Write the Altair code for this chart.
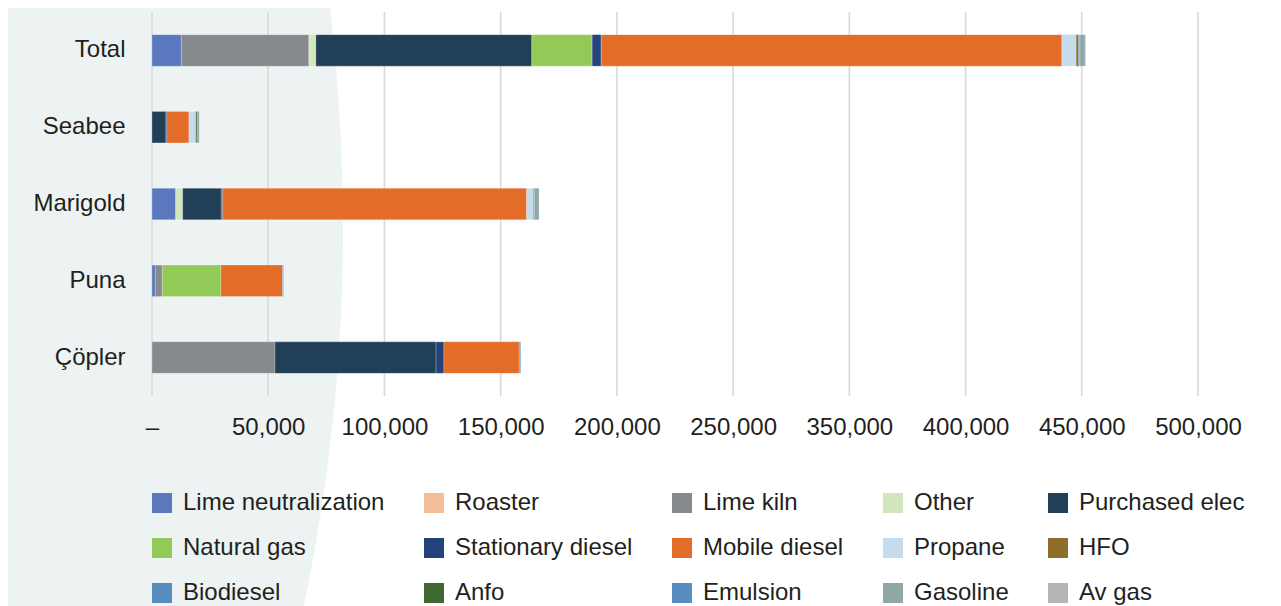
import altair as alt
import pandas as pd

sites = ["Total", "Seabee", "Marigold", "Puna", "Çöpler"]

sources = [
    "Lime neutralization", "Roaster", "Lime kiln", "Other", "Purchased elec",
    "Natural gas", "Stationary diesel", "Mobile diesel", "Propane", "HFO",
    "Biodiesel", "Anfo", "Emulsion", "Gasoline", "Av gas",
]

colors = [
    "#5a78bd", "#f3bf98", "#868a8c", "#d2e7bd", "#223f58",
    "#93c957", "#24437a", "#e36d28", "#c6dcec", "#8f6e2c",
    "#578dbf", "#416830", "#578dbf", "#8fa8a6", "#b5b5b5",
]

# values per source, aligned with `sites`
lime_neutralization = [12600, 0, 10200, 1400, 0]
roaster = [0, 0, 0, 0, 0]
lime_kiln = [54900, 0, 0, 3000, 52900]
other = [3000, 0, 3000, 0, 0]
purchased_elec = [92900, 6000, 16600, 0, 69300]
natural_gas = [25950, 0, 0, 25250, 0]
stationary_diesel = [3900, 400, 600, 0, 3400]
mobile_diesel = [198200, 9500, 130800, 26500, 32400]
propane = [6000, 2900, 2900, 0, 0]
hfo = [500, 0, 0, 0, 0]
biodiesel = [0, 0, 0, 0, 0]
anfo = [600, 600, 400, 0, 0]
emulsion = [600, 0, 0, 400, 600]
gasoline = [2300, 900, 2000, 0, 0]
av_gas = [300, 0, 0, 0, 0]

series = [
    lime_neutralization, roaster, lime_kiln, other, purchased_elec,
    natural_gas, stationary_diesel, mobile_diesel, propane, hfo,
    biodiesel, anfo, emulsion, gasoline, av_gas,
]

ticks = [0, 50000, 100000, 150000, 200000, 250000, 300000, 350000, 400000, 450000]

rows = []
for k, (src, vals) in enumerate(zip(sources, series)):
    for site, v in zip(sites, vals):
        if v > 0:
            rows.append({"site": site, "source": src, "value": v, "idx": k})
df = pd.DataFrame(rows)

W, H = 1046, 384
FONT = "Liberation Sans"
TXT = "#231f20"

xscale = alt.Scale(domain=[0, 450000], nice=False, zero=True)
xaxis = alt.Axis(
    values=ticks,
    labelExpr="datum.value == 0 ? '–' : format(datum.value >= 300000 ? datum.value + 50000 : datum.value, ',')",
    grid=False, domain=False, ticks=False, title=None,
    labelFontSize=24, labelPadding=19, labelFlush=False, zindex=1,
)

bg = alt.Chart(alt.Data(values=[{"a": 1}])).mark_arc(
    radius=1843, theta=0, theta2=6.2832, color="#edf3f3"
).encode(x=alt.value(-1652), y=alt.value(216))

grid = alt.Chart(pd.DataFrame({"t": ticks})).mark_rule(
    color="#d9d9d9", strokeWidth=1.6
).encode(
    x=alt.X("t:Q", scale=xscale, axis=xaxis),
    y=alt.value(0), y2=alt.value(H),
)

bars = alt.Chart(df).mark_bar(stroke="white", strokeWidth=0.4, strokeOpacity=0.6).encode(
    x=alt.X("value:Q", stack="zero", scale=xscale, axis=xaxis),
    y=alt.Y(
        "site:N", sort=sites,
        scale=alt.Scale(paddingInner=0.59, paddingOuter=0.295),
        axis=alt.Axis(title=None, domain=False, ticks=False, labelFontSize=24,
                      labelPadding=27, zindex=1),
    ),
    color=alt.Color(
        "source:N",
        scale=alt.Scale(domain=sources, range=colors),
        legend=alt.Legend(
            title=None, orient="none", legendX=-2, legendY=479, columns=5,
            direction="horizontal",
            symbolType="square", symbolSize=400, symbolStrokeWidth=0,
            symbolOpacity=1, labelFontSize=24, labelOffset=9,
            columnPadding=37, rowPadding=21, labelLimit=320, padding=0,
        ),
    ),
    order=alt.Order("idx:Q", sort="ascending"),
)

chart = alt.layer(bg, grid, bars).properties(
    width=W, height=H,
    autosize=alt.AutoSizeParams(type="none"),
    padding={"left": 144, "top": 4, "right": 75, "bottom": 210},
).configure_view(stroke=None).configure_axis(
    labelFont=FONT, labelColor=TXT
).configure_legend(
    labelFont=FONT, labelColor=TXT
)

chart.save("out.html", embed_options={"renderer": "svg", "actions": False})
